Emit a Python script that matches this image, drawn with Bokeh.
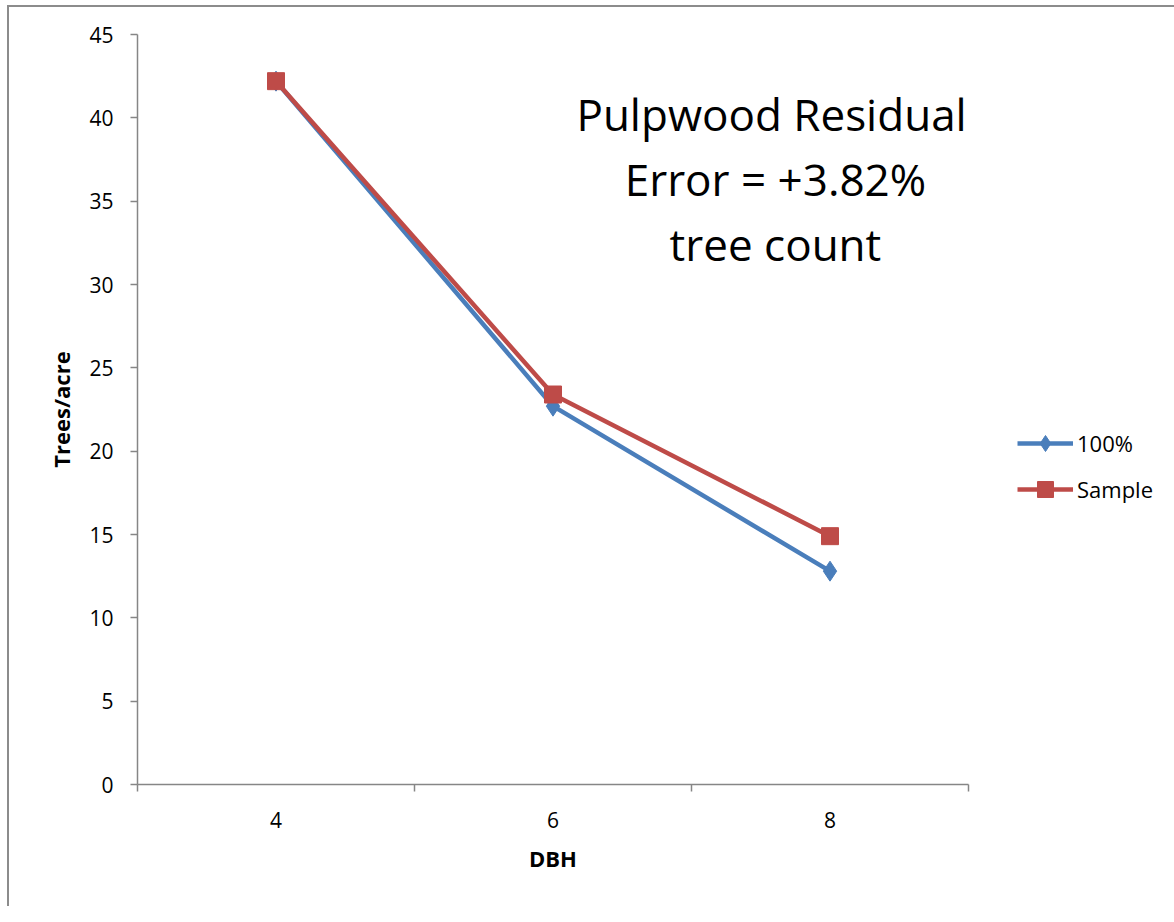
from bokeh.plotting import figure
from bokeh.models import Range1d, FixedTicker, Legend, LegendItem, Label
from bokeh.embed import file_html
from bokeh.resources import INLINE

dbh = [4, 6, 8]
full_100 = [42.2, 22.7, 12.8]
sample = [42.2, 23.4, 14.9]
y_ticks = [0, 5, 10, 15, 20, 25, 30, 35, 40, 45]
cat_edges = [3, 5, 7, 9]
title_lines = ["Pulpwood Residual", "Error = +3.82%", "tree count"]

FONT = "Open Sans"
AXIS_COLOR = "#868686"
BLUE = "#4A7EBB"
RED = "#BE4B48"
BORDER = "#8c8c8c"

p = figure(frame_width=831, frame_height=750,
           x_range=Range1d(3, 9), y_range=Range1d(0, 45),
           output_backend="svg", toolbar_location=None,
           min_border_left=137, min_border_top=34, min_border_right=190, min_border_bottom=122,
           background_fill_color="white", border_fill_color=None)
p.styles = {
    "background-color": "white",
    "background-image": f"linear-gradient({BORDER},{BORDER}), linear-gradient({BORDER},{BORDER})",
    "background-position": "7px 5px, 7px 5px",
    "background-size": "2px 100%, 100% 2px",
    "background-repeat": "no-repeat, no-repeat",
}
p.outline_line_color = None
p.xgrid.visible = False
p.ygrid.visible = False

# x axis
p.xaxis.ticker = FixedTicker(ticks=dbh, minor_ticks=cat_edges)
p.xaxis.major_tick_out = 0
p.xaxis.major_tick_in = 0
p.xaxis.minor_tick_out = 7
p.xaxis.minor_tick_in = 0
p.xaxis.minor_tick_line_color = AXIS_COLOR
p.xaxis.minor_tick_line_width = 1.5
p.xaxis.axis_line_color = AXIS_COLOR
p.xaxis.axis_line_width = 1.5
p.xaxis.major_label_standoff = 20
p.xaxis.axis_label = "DBH"
p.xaxis.axis_label_standoff = 12

# y axis
p.yaxis.ticker = FixedTicker(ticks=y_ticks, minor_ticks=[])
p.yaxis.major_tick_out = 7
p.yaxis.major_tick_in = 0
p.yaxis.major_tick_line_color = AXIS_COLOR
p.yaxis.major_tick_line_width = 1.5
p.yaxis.axis_line_color = AXIS_COLOR
p.yaxis.axis_line_width = 1.5
p.yaxis.major_label_standoff = 17
p.yaxis.axis_label = "Trees/acre"
p.yaxis.axis_label_standoff = 10

for ax in (p.xaxis[0], p.yaxis[0]):
    ax.major_label_text_font = FONT
    ax.major_label_text_font_size = "21px"
    ax.major_label_text_color = "black"
    ax.axis_label_text_font = FONT
    ax.axis_label_text_font_size = "22px"
    ax.axis_label_text_font_style = "bold"
    ax.axis_label_text_color = "black"

# series
l1 = p.line(dbh, full_100, line_color=BLUE, line_width=4.5)
m1 = p.scatter(dbh, full_100, marker="diamond", size=20, fill_color=BLUE, line_color=BLUE)
l2 = p.line(dbh, sample, line_color=RED, line_width=4.5)
m2 = p.scatter(dbh, sample, marker="square", size=17, fill_color=RED, line_color=RED)

legend = Legend(items=[LegendItem(label="100%", renderers=[l1, m1]),
                       LegendItem(label="Sample", renderers=[l2, m2])],
                location=(49, 275), orientation="vertical",
                glyph_width=56, glyph_height=40, label_height=40,
                label_standoff=4, spacing=6, padding=0, margin=0,
                border_line_color=None, background_fill_alpha=0,
                label_text_font=FONT, label_text_font_size="22px",
                label_text_color="black")
p.add_layout(legend, "right")

# annotation text (centre x per line, baselines)
title_x = [7.578, 7.606, 7.606]
title_y = [40.26, 36.36, 32.46]
for txt, tx, ty in zip(title_lines, title_x, title_y):
    p.add_layout(Label(x=tx, y=ty, text=txt, text_align="center",
                       text_baseline="alphabetic", text_font=FONT,
                       text_font_size="44px", text_color="black"))

open("out.html", "w").write(file_html(p, INLINE))
